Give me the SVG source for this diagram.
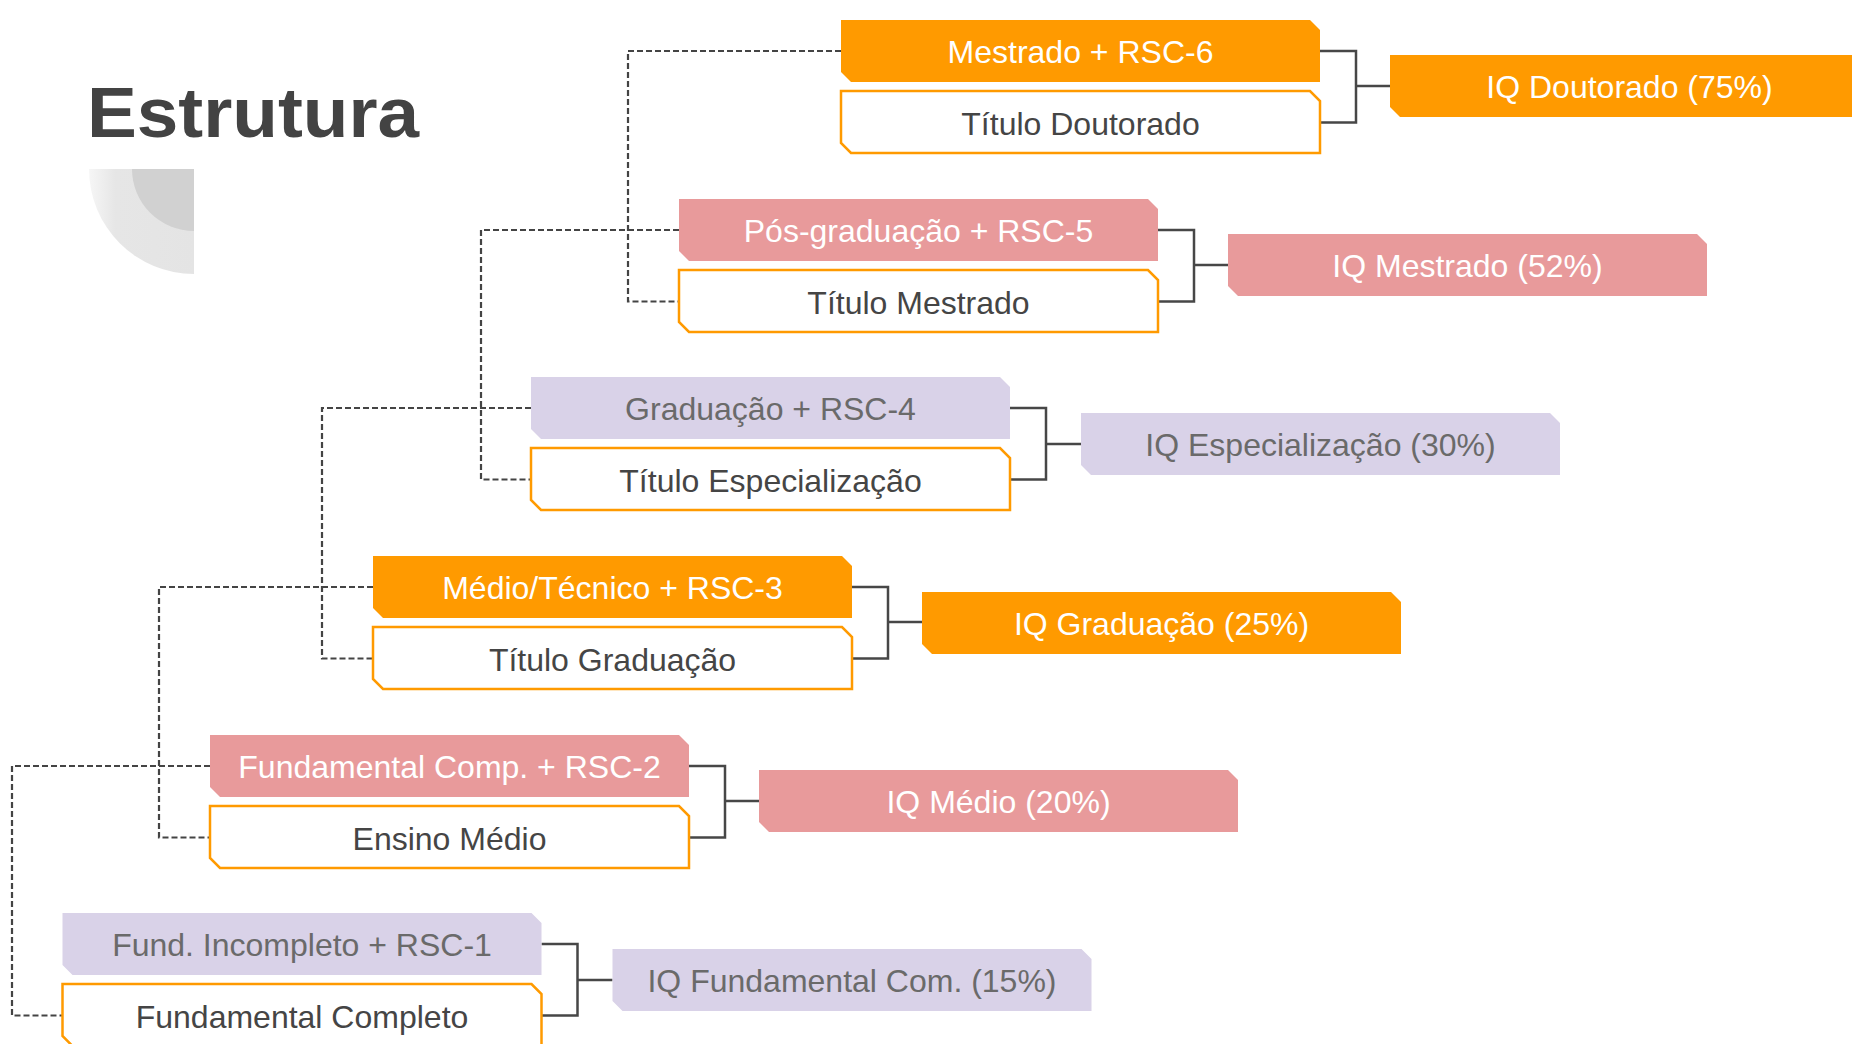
<svg xmlns="http://www.w3.org/2000/svg" width="1852" height="1044" viewBox="0 0 1852 1044">
  <style>
    .t { font-family: "Liberation Sans", Arial, sans-serif; font-size: 32px; text-anchor: middle; }
    .w { fill: #ffffff; }
    .g { fill: #6a6a6a; }
    .d { fill: #454545; }
    .orange { fill: #ff9a00; }
    .pink { fill: #e89a9b; }
    .lav { fill: #d9d2e8; }
    .out { fill: #ffffff; stroke: #ff9a00; stroke-width: 2.5; }
    .solid { fill: none; stroke: #474747; stroke-width: 2.5; }
    .dash { fill: none; stroke: #444444; stroke-width: 2.2; stroke-dasharray: 6 3; }
  </style>
  <defs>
    <path id="box" d="M0,0 H469 L479,10 V62 H10 L0,52 Z"/>
    <linearGradient id="fade" x1="0" y1="0" x2="1" y2="0">
      <stop offset="0" stop-color="#f6f6f6"/>
      <stop offset="0.25" stop-color="#e6e6e6"/>
      <stop offset="1" stop-color="#e4e4e4"/>
    </linearGradient>
  </defs>
  <rect width="1852" height="1044" fill="#ffffff"/>

  <g id="title">
    <text x="87" y="137" font-family="Liberation Sans, Arial, sans-serif" font-weight="bold" font-size="70" fill="#434343" textLength="332" lengthAdjust="spacingAndGlyphs">Estrutura</text>
    <path d="M194,169 L89,169 A105,105 0 0 0 194,274 Z" fill="url(#fade)"/>
    <path d="M194,169 L132,169 A62,62 0 0 0 194,231 Z" fill="#d1d1d1"/>
  </g>

  <g id="connectors">
    <!-- solid brackets -->
    <path class="solid" d="M1320,51 H1356 V122.5 H1320 M1356,86 H1390"/>
    <path class="solid" d="M1158,230 H1194 V301.5 H1158 M1194,265 H1228"/>
    <path class="solid" d="M1010,408 H1046 V479.5 H1010 M1046,444 H1081"/>
    <path class="solid" d="M852,587 H888 V658.5 H852 M888,622 H922"/>
    <path class="solid" d="M689,766 H725 V837.5 H689 M725,801 H759"/>
    <path class="solid" d="M541.5,944 H577.5 V1015.5 H541.5 M577.5,980 H612.5"/>
    <!-- dashed links -->
    <path class="dash" d="M841,51 H628 V301.5 H679"/>
    <path class="dash" d="M679,230 H481 V479.5 H531"/>
    <path class="dash" d="M531,408 H322 V658.5 H373"/>
    <path class="dash" d="M373,587 H159 V837.5 H210"/>
    <path class="dash" d="M210,766 H12 V1015.5 H62.5"/>
  </g>

  <g id="row6">
    <g id="n-mestrado-rsc6"><use href="#box" x="841" y="20" class="orange"/><text class="t w" x="1080.5" y="63">Mestrado + RSC-6</text></g>
    <g id="n-titulo-doutorado"><use href="#box" x="841" y="91" class="out"/><text class="t d" x="1080.5" y="134.5">Título Doutorado</text></g>
    <g id="n-iq-doutorado"><use href="#box" x="1390" y="55" class="orange"/><text class="t w" x="1629.5" y="98">IQ Doutorado (75%)</text></g>
  </g>

  <g id="row5">
    <g id="n-pos-rsc5"><use href="#box" x="679" y="199" class="pink"/><text class="t w" x="918.5" y="242">Pós-graduação + RSC-5</text></g>
    <g id="n-titulo-mestrado"><use href="#box" x="679" y="270" class="out"/><text class="t d" x="918.5" y="313.5">Título Mestrado</text></g>
    <g id="n-iq-mestrado"><use href="#box" x="1228" y="234" class="pink"/><text class="t w" x="1467.5" y="277">IQ Mestrado (52%)</text></g>
  </g>

  <g id="row4">
    <g id="n-graduacao-rsc4"><use href="#box" x="531" y="377" class="lav"/><text class="t g" x="770.5" y="420">Graduação + RSC-4</text></g>
    <g id="n-titulo-especializacao"><use href="#box" x="531" y="448" class="out"/><text class="t d" x="770.5" y="491.5">Título Especialização</text></g>
    <g id="n-iq-especializacao"><use href="#box" x="1081" y="413" class="lav"/><text class="t g" x="1320.5" y="456">IQ Especialização (30%)</text></g>
  </g>

  <g id="row3">
    <g id="n-medio-rsc3"><use href="#box" x="373" y="556" class="orange"/><text class="t w" x="612.5" y="599">Médio/Técnico + RSC-3</text></g>
    <g id="n-titulo-graduacao"><use href="#box" x="373" y="627" class="out"/><text class="t d" x="612.5" y="670.5">Título Graduação</text></g>
    <g id="n-iq-graduacao"><use href="#box" x="922" y="592" class="orange"/><text class="t w" x="1161.5" y="635">IQ Graduação (25%)</text></g>
  </g>

  <g id="row2">
    <g id="n-fundcomp-rsc2"><use href="#box" x="210" y="735" class="pink"/><text class="t w" x="449.5" y="778">Fundamental Comp. + RSC-2</text></g>
    <g id="n-ensino-medio"><use href="#box" x="210" y="806" class="out"/><text class="t d" x="449.5" y="849.5">Ensino Médio</text></g>
    <g id="n-iq-medio"><use href="#box" x="759" y="770" class="pink"/><text class="t w" x="998.5" y="813">IQ Médio (20%)</text></g>
  </g>

  <g id="row1">
    <g id="n-fundinc-rsc1"><use href="#box" x="62.5" y="913" class="lav"/><text class="t g" x="302" y="956">Fund. Incompleto + RSC-1</text></g>
    <g id="n-fundamental-completo"><use href="#box" x="62.5" y="984" class="out"/><text class="t d" x="302" y="1027.5">Fundamental Completo</text></g>
    <g id="n-iq-fundamental"><use href="#box" x="612.5" y="949" class="lav"/><text class="t g" x="852" y="992">IQ Fundamental Com. (15%)</text></g>
  </g>
</svg>
